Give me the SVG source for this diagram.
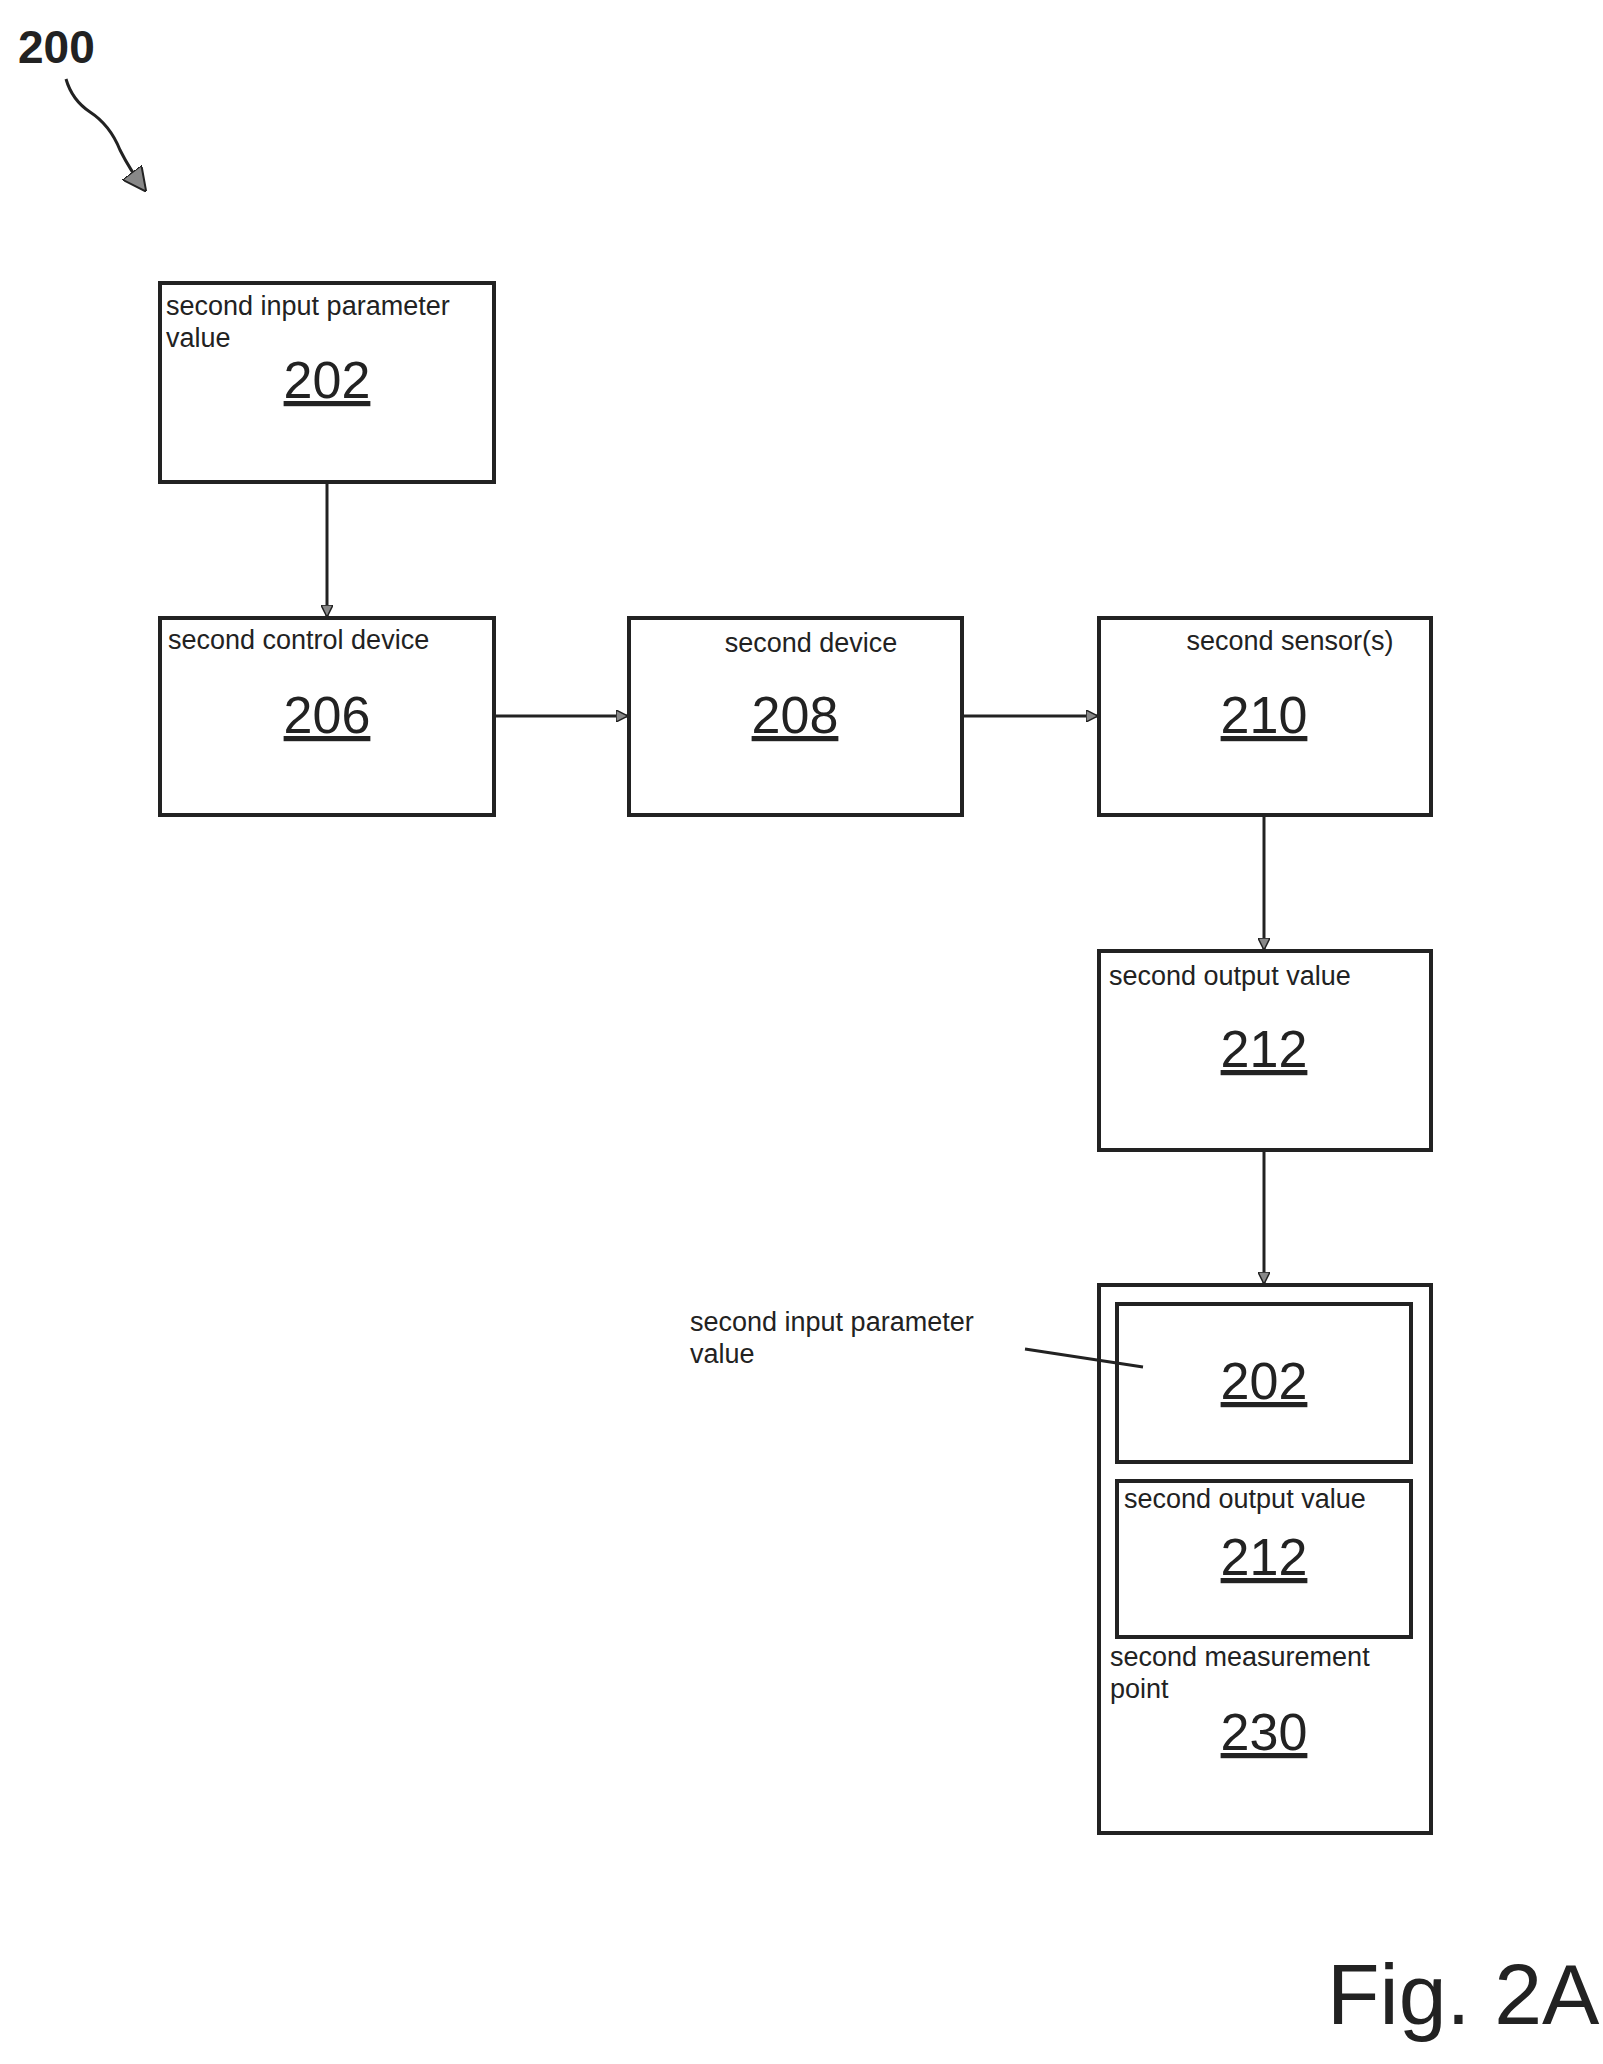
<svg xmlns="http://www.w3.org/2000/svg" width="1603" height="2064" viewBox="0 0 1603 2064">
<style>
.b{fill:none;stroke:#222;stroke-width:4}
.t{font-family:"Liberation Sans",Arial,sans-serif;font-size:27px;fill:#222}
.n{font-family:"Liberation Sans",Arial,sans-serif;font-size:52px;fill:#222;text-anchor:middle;text-decoration:underline}
.c{stroke:#222;stroke-width:3;fill:none}
</style>
<defs><marker id="a" markerWidth="12" markerHeight="12" refX="11" refY="6" orient="auto" markerUnits="userSpaceOnUse"><path d="M0,0 L12,6 L0,12 Z" fill="#888" stroke="#222" stroke-width="1.5"/></marker>
<marker id="a2" markerWidth="24" markerHeight="24" refX="22" refY="12" orient="auto" markerUnits="userSpaceOnUse"><path d="M0,0 L24,12 L0,24 Z" fill="#888" stroke="#222" stroke-width="2"/></marker></defs>
<text x="18" y="63" style="font-family:'Liberation Sans',Arial,sans-serif;font-size:46px;font-weight:bold;fill:#222">200</text>
<path class="c" d="M66,79 Q72,100 90,112 Q110,125 120,150 Q130,170 145,190" marker-end="url(#a2)"/>
<g id="n202"><rect class="b" x="160" y="283" width="334" height="199"/><text class="t" x="166" y="315">second input parameter</text><text class="t" x="166" y="347">value</text><text class="n" x="327" y="398">202</text></g>
<g id="n206"><rect class="b" x="160" y="618" width="334" height="197"/><text class="t" x="168" y="649">second control device</text><text class="n" x="327" y="733">206</text></g>
<g id="n208"><rect class="b" x="629" y="618" width="333" height="197"/><text class="t" x="811" y="652" text-anchor="middle">second device</text><text class="n" x="795" y="733">208</text></g>
<g id="n210"><rect class="b" x="1099" y="618" width="332" height="197"/><text class="t" x="1290" y="650" text-anchor="middle">second sensor(s)</text><text class="n" x="1264" y="733">210</text></g>
<g id="n212"><rect class="b" x="1099" y="951" width="332" height="199"/><text class="t" x="1109" y="985">second output value</text><text class="n" x="1264" y="1067">212</text></g>
<g id="n230"><rect class="b" x="1099" y="1285" width="332" height="548"/>
<rect class="b" x="1117" y="1304" width="294" height="158"/><text class="n" x="1264" y="1399">202</text>
<rect class="b" x="1117" y="1481" width="294" height="156"/><text class="t" x="1124" y="1508">second output value</text><text class="n" x="1264" y="1575">212</text>
<text class="t" x="1110" y="1666">second measurement</text><text class="t" x="1110" y="1698">point</text><text class="n" x="1264" y="1750">230</text></g>
<g id="ann"><text class="t" x="690" y="1331">second input parameter</text><text class="t" x="690" y="1363">value</text></g>
<g id="connectors">
<line class="c" x1="327" y1="482" x2="327" y2="616" marker-end="url(#a)"/>
<line class="c" x1="494" y1="716" x2="627" y2="716" marker-end="url(#a)"/>
<line class="c" x1="962" y1="716" x2="1097" y2="716" marker-end="url(#a)"/>
<line class="c" x1="1264" y1="815" x2="1264" y2="949" marker-end="url(#a)"/>
<line class="c" x1="1264" y1="1150" x2="1264" y2="1283" marker-end="url(#a)"/>
<line class="c" x1="1025" y1="1349" x2="1143" y2="1367"/>
</g>
<text x="1327" y="2024" style="font-family:'Liberation Sans',Arial,sans-serif;font-size:86px;fill:#222">Fig. 2A</text>
</svg>
